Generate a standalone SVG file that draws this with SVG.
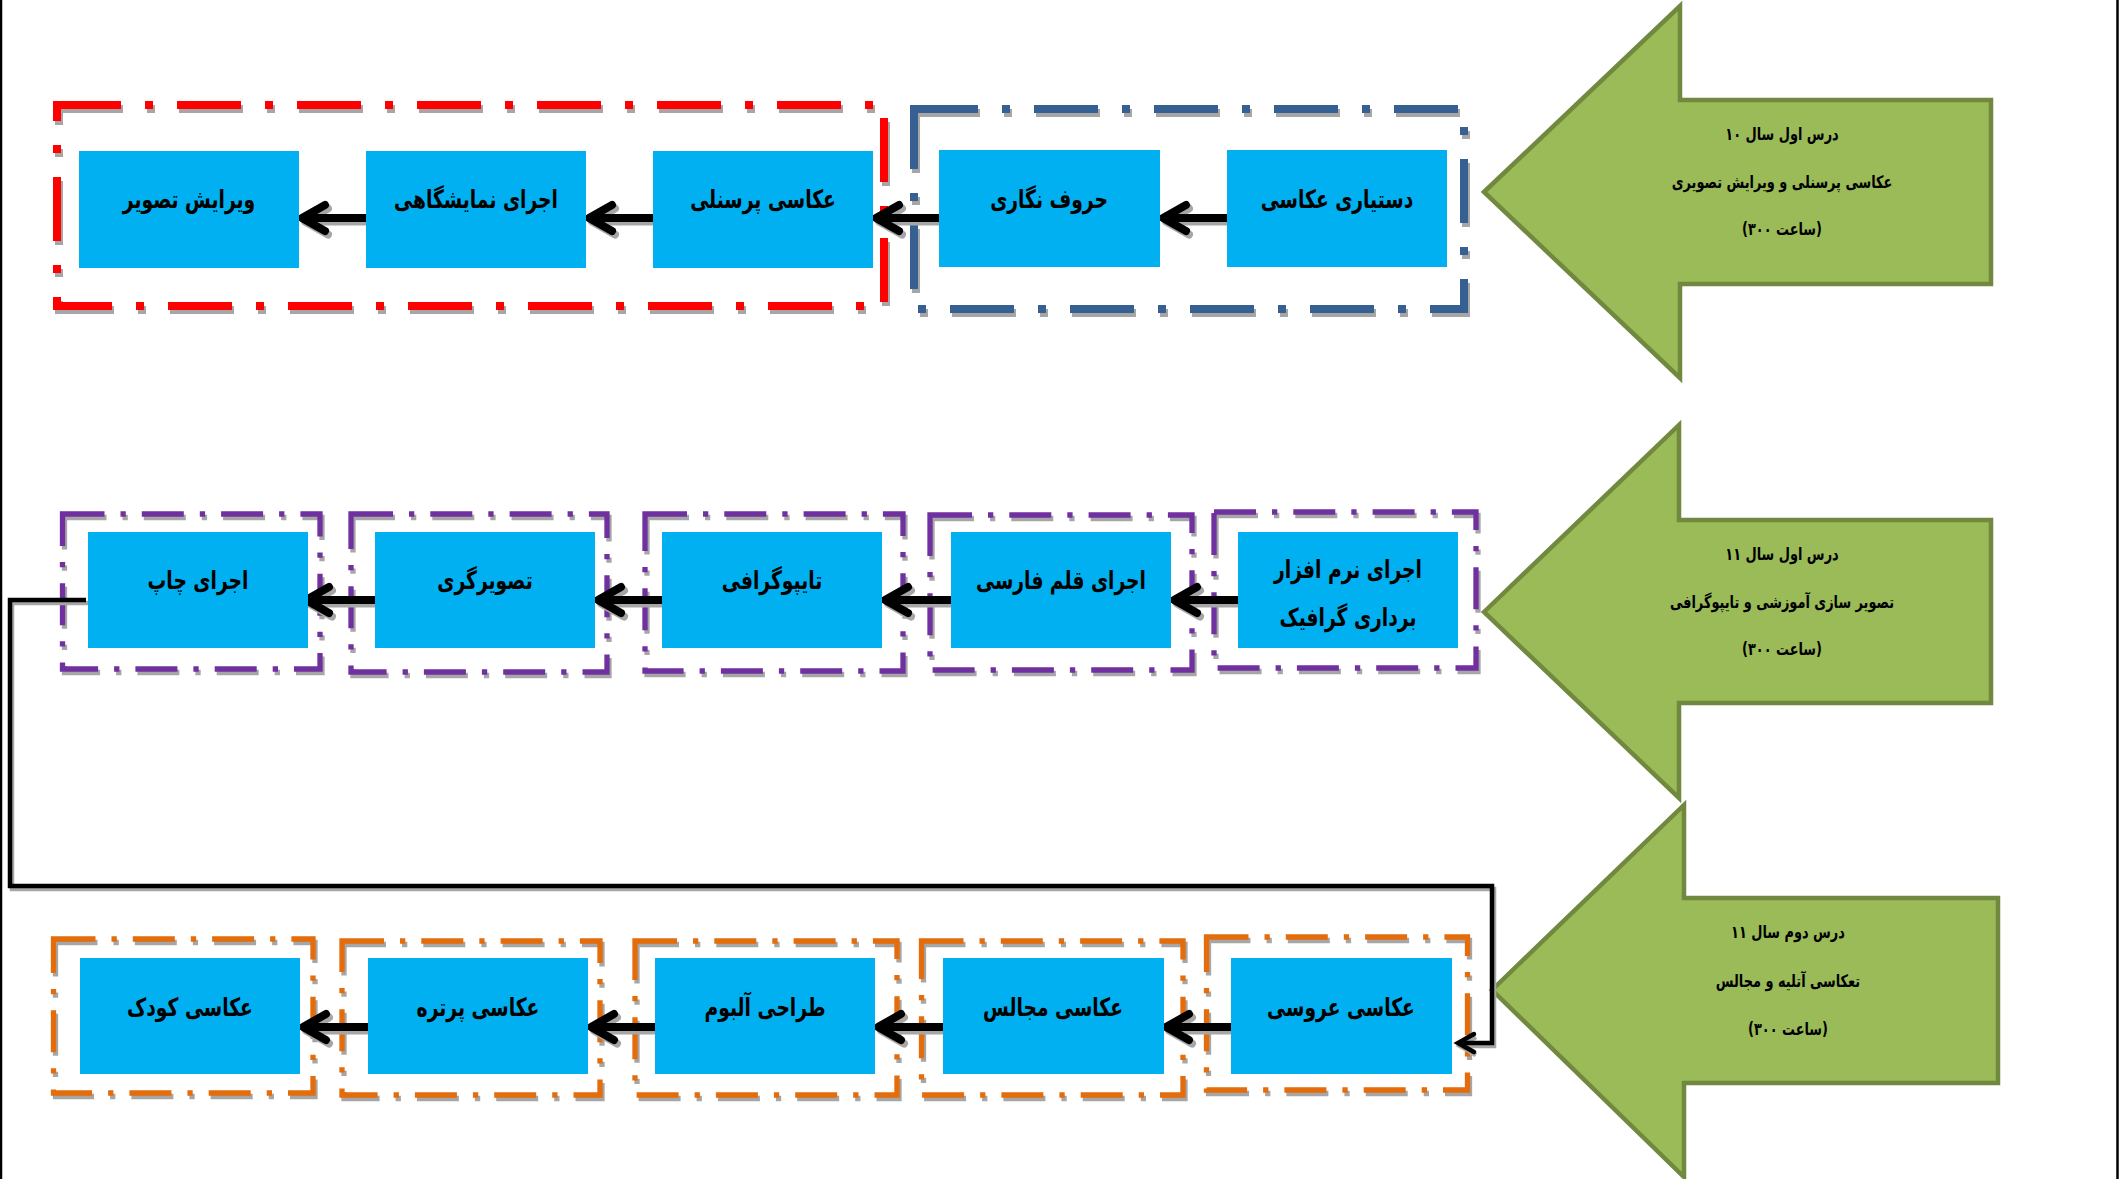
<svg xmlns="http://www.w3.org/2000/svg" width="2119" height="1179" viewBox="0 0 2119 1179">
<defs>
<style>
.node{fill:#00b0f0;}
.lbl{font-family:"DejaVu Sans",sans-serif;font-weight:bold;font-size:22px;fill:#000;text-anchor:middle;direction:rtl;unicode-bidi:embed;}
.alb{font-family:"DejaVu Sans",sans-serif;font-weight:bold;font-size:15px;fill:#000;text-anchor:middle;direction:rtl;unicode-bidi:embed;}
.green{fill:#9bbb59;stroke:#71893f;stroke-width:4.5;stroke-linejoin:miter;}
.sh{stroke:#a6a6a6;}
.big{fill:none;stroke-width:8;stroke-dasharray:64 24 8 24;}
.small{fill:none;stroke-width:5.3;stroke-dasharray:42 16 5.3 16;}
.red{stroke:#ff0000;}
.blue{stroke:#376092;}
.purple{stroke:#7030a0;}
.orange{stroke:#e46c0a;}
.chev{fill:none;stroke:#000;stroke-width:8;stroke-linecap:round;stroke-linejoin:round;}
.chev.sh{stroke:#a6a6a6;}
.conn{fill:none;stroke:#000;stroke-width:4.5;stroke-linejoin:miter;}
.conn.sh{stroke:#a6a6a6;}
.border{stroke:#000;stroke-width:2.5;}
</style>
</defs>
<rect x="0" y="0" width="2119" height="1179" fill="#ffffff"/>
<line class="border" x1="1" y1="0" x2="1" y2="1179"/>
<line class="border" x1="2117.5" y1="0" x2="2117.5" y2="1179"/>

<g id="frames">
  <g transform="translate(2,4)">
    <rect class="big sh" x="57" y="105" width="827" height="201"/>
    <rect class="big sh" x="914" y="109" width="550" height="200"/>
  </g>
  <rect class="big red" x="57" y="105" width="827" height="201"/>
  <rect class="big blue" x="914" y="109" width="550" height="200"/>

  <g transform="translate(2,3.5)">
    <rect class="small sh" x="62.5" y="514" width="257.5" height="155"/>
    <rect class="small sh" x="351" y="514" width="256" height="158"/>
    <rect class="small sh" x="645" y="514" width="258" height="157"/>
    <rect class="small sh" x="930" y="515" width="262" height="155"/>
    <rect class="small sh" x="1214" y="512" width="262" height="156"/>
  </g>
  <rect class="small purple" x="62.5" y="514" width="257.5" height="155"/>
  <rect class="small purple" x="351" y="514" width="256" height="158"/>
  <rect class="small purple" x="645" y="514" width="258" height="157"/>
  <rect class="small purple" x="930" y="515" width="262" height="155"/>
  <rect class="small purple" x="1214" y="512" width="262" height="156"/>

  <g transform="translate(2,3.5)">
    <rect class="small sh" x="53.5" y="939" width="259.5" height="154"/>
    <rect class="small sh" x="342" y="941" width="258" height="154"/>
    <rect class="small sh" x="635" y="941" width="262" height="154"/>
    <rect class="small sh" x="921.5" y="941" width="261.5" height="154"/>
    <rect class="small sh" x="1206.5" y="937" width="261" height="153"/>
  </g>
  <rect class="small orange" x="53.5" y="939" width="259.5" height="154"/>
  <rect class="small orange" x="342" y="941" width="258" height="154"/>
  <rect class="small orange" x="635" y="941" width="262" height="154"/>
  <rect class="small orange" x="921.5" y="941" width="261.5" height="154"/>
  <rect class="small orange" x="1206.5" y="937" width="261" height="153"/>
</g>

<g id="course1">
  <polygon class="green" points="1484,192 1680,6 1680,100 1991,100 1991,284 1680,284 1680,378"/>
  <text class="alb" transform="translate(1782,140) scale(0.86,1.15)">درس اول سال ۱۰</text>
  <text class="alb" transform="translate(1782,188) scale(0.86,1.15)">عکاسی پرسنلی و ویرایش تصویری</text>
  <text class="alb" transform="translate(1782,235) scale(0.86,1.15)">(ساعت ۳۰۰)</text>
</g>
<g id="course2">
  <polygon class="green" points="1484,612 1679,425 1679,520 1991,520 1991,703 1679,703 1679,798"/>
  <text class="alb" transform="translate(1782,560) scale(0.86,1.15)">درس اول سال ۱۱</text>
  <text class="alb" transform="translate(1782,608) scale(0.86,1.15)">تصویر سازی آموزشی و تایپوگرافی</text>
  <text class="alb" transform="translate(1782,655) scale(0.86,1.15)">(ساعت ۳۰۰)</text>
</g>
<g id="course3">
  <polygon class="green" points="1492,990 1684,805 1684,898 1998,898 1998,1083 1684,1083 1684,1177"/>
  <text class="alb" transform="translate(1788,938) scale(0.86,1.15)">درس دوم سال ۱۱</text>
  <text class="alb" transform="translate(1788,987) scale(0.86,1.15)">تعکاسی آتلیه و مجالس</text>
  <text class="alb" transform="translate(1788,1035) scale(0.86,1.15)">(ساعت ۳۰۰)</text>
</g>

<g id="connectors">
  <g transform="translate(3,3.5)">
    <path class="chev sh" d="M1227,218 H1166 M1186,205 L1163,218 L1186,231"/>
    <path class="chev sh" d="M939,218 H879 M899,205 L876,218 L899,231"/>
    <path class="chev sh" d="M653,218 H592 M612,205 L589,218 L612,231"/>
    <path class="chev sh" d="M366,218 H305 M325,205 L302,218 L325,231"/>
    <path class="chev sh" d="M1238,600 H1177 M1197,587 L1174,600 L1197,613"/>
    <path class="chev sh" d="M951,600 H888 M908,587 L885,600 L908,613"/>
    <path class="chev sh" d="M662,600 H601 M621,587 L598,600 L621,613"/>
    <path class="chev sh" d="M375,600 H309 M329,587 L306,600 L329,613"/>
    <path class="chev sh" d="M1231,1027 H1169 M1189,1014 L1166,1027 L1189,1040"/>
    <path class="chev sh" d="M943,1027 H881 M901,1014 L878,1027 L901,1040"/>
    <path class="chev sh" d="M655,1027 H594 M614,1014 L591,1027 L614,1040"/>
    <path class="chev sh" d="M368,1027 H306 M326,1014 L303,1027 L326,1040"/>
  </g>
  <path class="conn sh" transform="translate(2,3)" d="M86,600 H10 V886 H1492 V1043 H1458 M1474,1034 L1458,1043 L1474,1052"/>
  <path class="chev" d="M1227,218 H1166 M1186,205 L1163,218 L1186,231"/>
  <path class="chev" d="M939,218 H879 M899,205 L876,218 L899,231"/>
  <path class="chev" d="M653,218 H592 M612,205 L589,218 L612,231"/>
  <path class="chev" d="M366,218 H305 M325,205 L302,218 L325,231"/>
  <path class="chev" d="M1238,600 H1177 M1197,587 L1174,600 L1197,613"/>
  <path class="chev" d="M951,600 H888 M908,587 L885,600 L908,613"/>
  <path class="chev" d="M662,600 H601 M621,587 L598,600 L621,613"/>
  <path class="chev" d="M375,600 H309 M329,587 L306,600 L329,613"/>
  <path class="chev" d="M1231,1027 H1169 M1189,1014 L1166,1027 L1189,1040"/>
  <path class="chev" d="M943,1027 H881 M901,1014 L878,1027 L901,1040"/>
  <path class="chev" d="M655,1027 H594 M614,1014 L591,1027 L614,1040"/>
  <path class="chev" d="M368,1027 H306 M326,1014 L303,1027 L326,1040"/>
  <path class="conn" d="M86,600 H10 V886 H1492 V1043 H1458"/>
  <path class="conn" stroke-linecap="round" stroke-linejoin="round" d="M1474,1034 L1458,1043 L1474,1052"/>
</g>

<g id="n-dastyari"><rect class="node" x="1227" y="150" width="220" height="117"/><text class="lbl" transform="translate(1337,208) scale(0.85,1.15)">دستیاری عکاسی</text></g>
<g id="n-horoof"><rect class="node" x="939" y="150" width="221" height="117"/><text class="lbl" transform="translate(1049,208) scale(0.85,1.15)">حروف نگاری</text></g>
<g id="n-personeli"><rect class="node" x="653" y="151" width="220" height="117"/><text class="lbl" transform="translate(763,208) scale(0.85,1.15)">عکاسی پرسنلی</text></g>
<g id="n-namayeshgahi"><rect class="node" x="366" y="151" width="220" height="117"/><text class="lbl" transform="translate(476,208) scale(0.85,1.15)">اجرای نمایشگاهی</text></g>
<g id="n-virayesh"><rect class="node" x="79" y="151" width="220" height="117"/><text class="lbl" transform="translate(189,208) scale(0.85,1.15)">ویرایش تصویر</text></g>

<g id="n-narmafzar"><rect class="node" x="1238" y="532" width="220" height="116"/><text class="lbl" transform="translate(1348,578) scale(0.85,1.15)">اجرای نرم افزار</text><text class="lbl" transform="translate(1348,626) scale(0.85,1.15)">برداری گرافیک</text></g>
<g id="n-ghalam"><rect class="node" x="951" y="532" width="220" height="116"/><text class="lbl" transform="translate(1061,589) scale(0.85,1.15)">اجرای قلم فارسی</text></g>
<g id="n-typography"><rect class="node" x="662" y="532" width="220" height="116"/><text class="lbl" transform="translate(772,589) scale(0.85,1.15)">تایپوگرافی</text></g>
<g id="n-tasvirgari"><rect class="node" x="375" y="532" width="220" height="116"/><text class="lbl" transform="translate(485,589) scale(0.85,1.15)">تصویرگری</text></g>
<g id="n-chap"><rect class="node" x="88" y="532" width="220" height="116"/><text class="lbl" transform="translate(198,589) scale(0.85,1.15)">اجرای چاپ</text></g>

<g id="n-aroosi"><rect class="node" x="1231" y="958" width="221" height="116"/><text class="lbl" transform="translate(1341,1016) scale(0.85,1.15)">عکاسی عروسی</text></g>
<g id="n-majales"><rect class="node" x="943" y="958" width="221" height="116"/><text class="lbl" transform="translate(1053,1016) scale(0.85,1.15)">عکاسی مجالس</text></g>
<g id="n-album"><rect class="node" x="655" y="958" width="220" height="116"/><text class="lbl" transform="translate(765,1016) scale(0.85,1.15)">طراحی آلبوم</text></g>
<g id="n-portre"><rect class="node" x="368" y="958" width="220" height="116"/><text class="lbl" transform="translate(478,1016) scale(0.85,1.15)">عکاسی پرتره</text></g>
<g id="n-kodak"><rect class="node" x="80" y="958" width="220" height="116"/><text class="lbl" transform="translate(190,1016) scale(0.85,1.15)">عکاسی کودک</text></g>
</svg>
